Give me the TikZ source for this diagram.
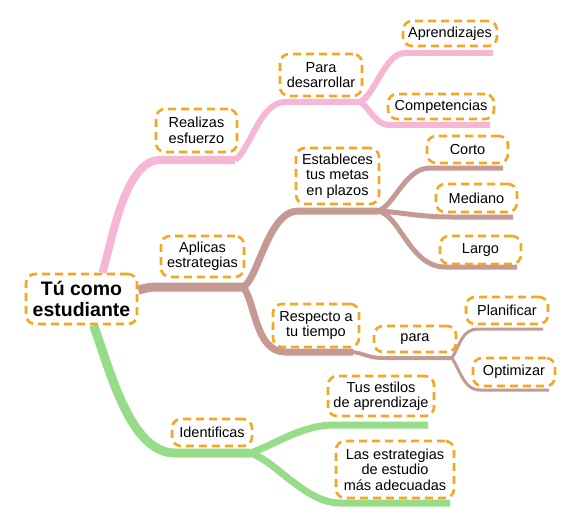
\documentclass[tikz,border=0pt]{standalone}
\usepackage{fontspec}
\setmainfont{Liberation Sans}
\usetikzlibrary{backgrounds}
\definecolor{boxorange}{HTML}{F5A623}
\definecolor{pinkbranch}{HTML}{F5B7D3}
\definecolor{brownbranch}{HTML}{C49A92}
\definecolor{greenbranch}{HTML}{97DD89}
\tikzset{
  idea/.style={draw=boxorange, line width=2.6pt, dash pattern=on 8pt off 5pt, rounded corners=9pt, fill=white, align=center, inner sep=2pt, font=\fontsize{14.5}{15.5}\selectfont},
  mainidea/.style={idea, font=\fontsize{19.5}{20.5}\selectfont\bfseries},
  pinkline/.style={draw=pinkbranch, line width=6pt},
  brownline/.style={draw=brownbranch, line width=5pt},
  greenline/.style={draw=greenbranch, line width=8pt}
}
\begin{document}
\begin{tikzpicture}[x=1pt,y=-1pt]
  \useasboundingbox (0,0) rectangle (571,527);
  \node[mainidea, minimum width=111pt, minimum height=50pt] (tu) at (81.5,299) {Tú como\\estudiante};
  \node[idea, minimum width=81pt, minimum height=43pt] (realizas) at (196.5,130.5) {Realizas\\esfuerzo};
  \node[idea, minimum width=82pt, minimum height=42pt] (desarrollar) at (321,75) {Para\\desarrollar};
  \node[idea, minimum width=94pt, minimum height=25pt] (aprendizajes) at (450,33.5) {Aprendizajes};
  \node[idea, minimum width=106pt, minimum height=25pt] (competencias) at (441,106.5) {Competencias};
  \node[idea, minimum width=83pt, minimum height=41pt] (aplicas) at (202.5,256.5) {Aplicas\\estrategias};
  \node[idea, minimum width=83pt, minimum height=56pt] (metas) at (337.5,176) {Estableces\\tus metas\\en plazos};
  \node[idea, minimum width=81pt, minimum height=27pt] (corto) at (467.5,149.5) {Corto};
  \node[idea, minimum width=81pt, minimum height=28pt] (mediano) at (476.5,198) {Mediano};
  \node[idea, minimum width=81pt, minimum height=28pt] (largo) at (480.5,250) {Largo};
  \node[idea, minimum width=86pt, minimum height=43pt] (tiempo) at (316,325.5) {Respecto a\\tu tiempo};
  \node[idea, minimum width=82pt, minimum height=26pt] (para) at (415,339) {para};
  \node[idea, minimum width=82pt, minimum height=27pt] (planificar) at (507,310.5) {Planificar};
  \node[idea, minimum width=82pt, minimum height=28pt] (optimizar) at (514,372) {Optimizar};
  \node[idea, minimum width=80pt, minimum height=27pt] (identificas) at (212,432.5) {Identificas};
  \node[idea, minimum width=106pt, minimum height=40pt] (estilos) at (381,396) {Tus estilos\\de aprendizaje};
  \node[idea, minimum width=118pt, minimum height=57pt] (estudio) at (395,469.5) {Las estrategias\\de estudio\\más adecuadas};
  \coordinate (pk1) at (235,160);
  \coordinate (pk2) at (360,102);
  \coordinate (br1) at (243,287);
  \coordinate (br2) at (378,211);
  \coordinate (br3) at (353,352);
  \coordinate (pa1) at (452,358);
  \coordinate (gr1) at (250,453);
  \begin{scope}[on background layer]
    \draw[pinkline, line width=8pt] ([xshift=21pt]tu.north) .. controls (112,240) and (125,160) .. (160,160) -- (pk1);
    \draw[pinkline] (pk1) .. controls (250,150) and (260,102) .. (285,102) -- (pk2);
    \draw[pinkline] (pk2) .. controls (375,95) and (385,53) .. (405,53) -- (493,53);
    \draw[pinkline] (pk2) .. controls (372,110) and (375,125) .. (390,125) -- (490,125);
    \draw[brownline, line width=9pt] ([yshift=9pt]tu.east) .. controls (150,287) .. (165,287) -- (br1);
    \draw[brownline, line width=7pt] (br1) .. controls (258,280) and (268,211) .. (298,211) -- (br2);
    \draw[brownline, line width=7pt] (br1) .. controls (255,300) and (255,352) .. (285,352) -- (br3);
    \draw[brownline] (br2) .. controls (395,205) and (405,168) .. (430,168) -- (503,168);
    \draw[brownline] (br2) .. controls (400,212) and (420,217) .. (450,217) -- (513,217);
    \draw[brownline] (br2) .. controls (400,215) and (410,267) .. (445,267) -- (517,267);
    \draw[brownline, line width=4pt] (br3) .. controls (365,354) and (370,358) .. (382,358) -- (pa1);
    \draw[brownline, line width=3pt] (pa1) .. controls (460,345) and (462,329) .. (478,329) -- (543,329);
    \draw[brownline, line width=3pt] (pa1) .. controls (462,375) and (465,390) .. (480,390) -- (549,390);
    \draw[greenline, line width=9pt] ([xshift=12pt]tu.south) .. controls (110,370) and (130,453) .. (175,453) -- (gr1);
    \draw[greenline, line width=7pt] (gr1) .. controls (275,445) and (300,425) .. (335,425) -- (428,425);
    \draw[greenline, line width=7pt] (gr1) .. controls (275,460) and (305,503) .. (340,503) -- (450,503);
  \end{scope}
\end{tikzpicture}
\end{document}
